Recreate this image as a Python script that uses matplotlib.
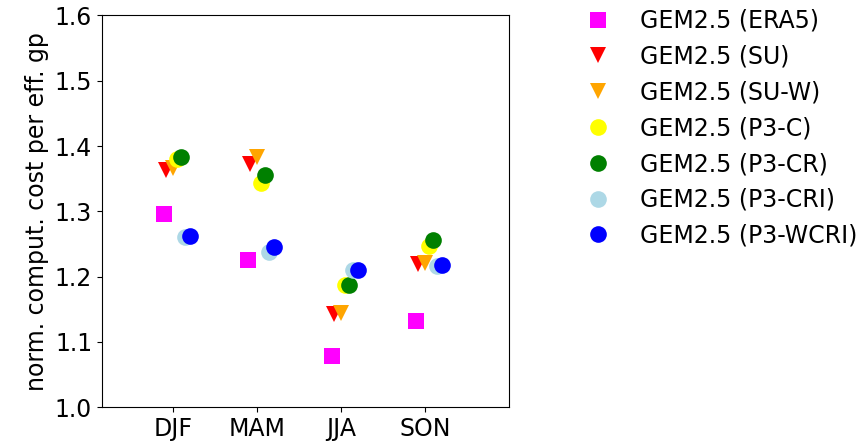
import numpy as np
import matplotlib
matplotlib.use('Agg')
import matplotlib.pyplot as plt

# seasons and normalized cost per simulation
seasons = ['DJF', 'MAM', 'JJA', 'SON']
era5 = [1.296, 1.225, 1.079, 1.132]
su = [1.363, 1.372, 1.143, 1.220]
su_w = [1.367, 1.384, 1.145, 1.221]
p3_c = [1.380, 1.344, 1.188, 1.247]
p3_cr = [1.384, 1.356, 1.188, 1.256]
p3_cri = [1.261, 1.238, 1.210, 1.217]
p3_wcri = [1.262, 1.245, 1.210, 1.218]

runs = [
    ('GEM2.5 (ERA5)', era5, 's', 'magenta', -0.108),
    ('GEM2.5 (SU)', su, 'v', 'red', -0.084),
    ('GEM2.5 (SU-W)', su_w, 'v', 'orange', 0.0),
    ('GEM2.5 (P3-C)', p3_c, 'o', 'yellow', 0.044),
    ('GEM2.5 (P3-CR)', p3_cr, 'o', 'green', 0.096),
    ('GEM2.5 (P3-CRI)', p3_cri, 'o', 'lightblue', 0.143),
    ('GEM2.5 (P3-WCRI)', p3_wcri, 'o', 'blue', 0.197),
]

fig = plt.figure(figsize=(8.63, 4.42), dpi=100)
ax = fig.add_axes([0.118, 0.0785, 0.472, 0.8865])

x = np.arange(len(seasons))
for label, vals, mk, col, off in runs:
    ax.plot(x + off, vals, linestyle='none', marker=mk, color=col,
            markersize=12, markeredgewidth=0, label=label)

ax.set_xticks(x)
ax.set_xticklabels(seasons, fontsize=17)
ax.set_xlim(-0.85, 4.0)
ax.set_ylim(1.0, 1.6)
ax.set_yticks(np.arange(1.0, 1.61, 0.1))
ax.tick_params(axis='y', labelsize=17)
ax.set_ylabel('norm. comput. cost per eff. gp', fontsize=17)

ax.legend(loc='upper left', bbox_to_anchor=(0.641, 1.028),
          bbox_transform=fig.transFigure, frameon=False, fontsize=17,
          handletextpad=0.76, labelspacing=0.5)

fig.savefig('out.png', dpi=100)
